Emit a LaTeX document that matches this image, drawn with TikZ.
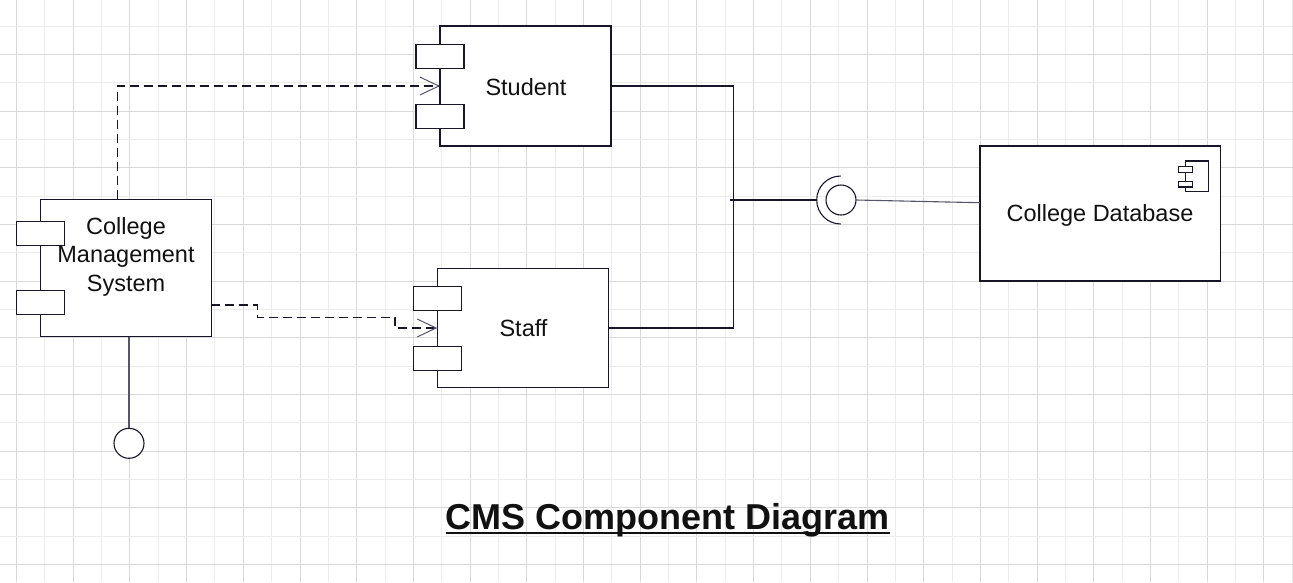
\documentclass[tikz,border=0pt]{standalone}
\usepackage{fontspec}
\setmainfont{Liberation Sans}
\usetikzlibrary{arrows.meta,calc}
\definecolor{ink}{RGB}{22,22,38}
\definecolor{thinink}{RGB}{85,85,105}
\definecolor{gridmajor}{RGB}{217,217,217}
\definecolor{gridminor}{RGB}{236,236,236}
\definecolor{txt}{RGB}{17,17,17}
\begin{document}
\begin{tikzpicture}[x=1pt,y=-1pt,
  comp/.style={draw=ink, line width=1.1pt, fill=white, inner sep=0pt, outer sep=0pt,
    font=\fontsize{23.5}{28.5}\selectfont, text=txt},
  port/.style={draw=ink, line width=1.1pt, fill=white, minimum width=48pt,
    minimum height=24pt, inner sep=0pt, outer sep=0pt},
  ball/.style={circle, draw=ink, line width=1.1pt, fill=white, minimum size=30pt,
    inner sep=0pt, outer sep=0pt},
  wire/.style={draw=ink, line width=1.1pt},
  dep/.style={draw=ink, line width=1.1pt, dash pattern=on 9pt off 5pt,
    -{Straight Barb[length=19pt,width=18pt,line width=1pt,color=thinink]}},
  lbl/.style={font=\fontsize{23.5}{28.5}\selectfont, text=txt, align=center, inner sep=0pt}
]
\useasboundingbox (0,0) rectangle (1293,582);
\fill[white] (0,0) rectangle (1293,582);
% grid
\foreach \k in {0,...,45}{
  \pgfmathsetmacro{\gx}{16.5+28.35*\k}
  \ifodd\k \def\gc{gridminor}\else\def\gc{gridmajor}\fi
  \draw[draw=\gc, line width=1pt] (\gx,0) -- (\gx,582);
}
\foreach \k in {0,...,19}{
  \pgfmathsetmacro{\gy}{26+28.35*\k}
  \ifodd\k \def\gc{gridmajor}\else\def\gc{gridminor}\fi
  \draw[draw=\gc, line width=1pt] (0,\gy) -- (1293,\gy);
}
% components
\node[comp, minimum width=171pt, minimum height=120pt] (student) at (525.5,86) {};
\node[lbl] (studenttext) at (526,87.5) {Student};
\node[port] (stp1) at (440,56.3) {};
\node[port] (stp2) at (440,116.3) {};

\node[comp, minimum width=171pt, minimum height=119.4pt] (staff) at (522.8,328) {};
\node[lbl] (stafftext) at (523.5,328.5) {Staff};
\node[port] (sfp1) at (437.3,298.3) {};
\node[port] (sfp2) at (437.3,358.3) {};

\node[comp, minimum width=170.6pt, minimum height=137.4pt] (cms) at (126,268) {};
\node[lbl] (cmstext) at (126,256.5) {College\\Management\\System};
\node[port] (cmp1) at (40.5,233.3) {};
\node[port] (cmp2) at (40.5,302.2) {};

\node[comp, minimum width=240.7pt, minimum height=135pt] (db) at (1100.3,213.5) {};
\node[lbl] (dbtext) at (1100,215) {College Database};
\draw[ink, line width=1.1pt, fill=white] (1185.3,161) rectangle (1208.7,191.7);
\draw[ink, line width=1.1pt, fill=white] (1178.3,166.7) rectangle (1192.7,172.3);
\draw[ink, line width=1.1pt, fill=white] (1178.3,181.3) rectangle (1192.7,187);

% assembly connector
\coordinate (jn) at (733.3,200);
\draw[wire] (student.east) -| (jn) |- (staff.east);
\coordinate (stub) at (730,200);
\coordinate (sock) at (840.7,200);
\draw[wire] (stub) -- ($(sock)+(-24,0)$);
\draw[wire] ($(sock)+(0,-24)$) arc[start angle=90,end angle=270,radius=24pt];
\node[ball] (dbball) at (841,200) {};
\draw[wire, draw=thinink] (dbball.east) -- ($(db.west)+(0,-10.8)$);

% provided interface of CMS
\node[ball] (cmsball) at (129,443.3) {};
\draw[wire, draw=thinink] (cmsball.north) -- (cmsball.north |- cms.south);

% dependencies
\draw[dep] ([xshift=-8.7pt]cms.north) |- (student.west);
\draw[dep] ($(cms.east)+(0,37)$) -- ++(46,0) -- ++(0,12.3) -- ++(137.7,0) |- (staff.west);

% title
\node[font=\fontsize{36}{43}\selectfont\bfseries, text=txt, inner sep=0pt, anchor=base] (title) at (668,529) {CMS Component Diagram};
\draw[txt, line width=2.8pt] ($(title.base west)+(0,4)$) -- ($(title.base east)+(0,4)$);
\end{tikzpicture}
\end{document}
